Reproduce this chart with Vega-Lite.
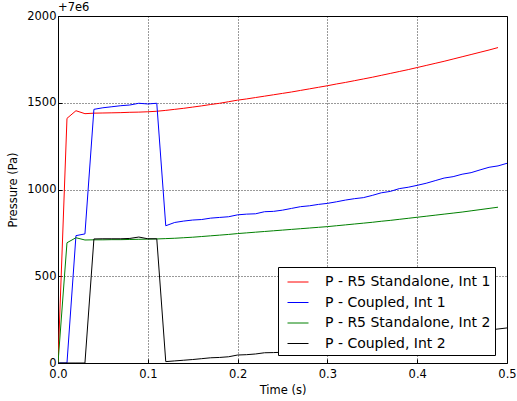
{
  "$schema": "https://vega.github.io/schema/vega-lite/v6.json",
  "width": 449,
  "height": 347,
  "autosize": {"type": "none"},
  "padding": {"left": 58, "top": 16, "right": 10, "bottom": 38},
  "background": "white",
  "title": {"text": "+7e6", "anchor": "start", "frame": "group", "fontSize": 11.5, "fontWeight": "normal", "font": "DejaVu Sans", "offset": -3, "color": "black"},
  "config": {
    "font": "DejaVu Sans",
    "view": {"stroke": "black", "strokeWidth": 1},
    "axis": {
      "domain": false,
      "grid": true,
      "gridColor": "#000000",
      "gridDash": [1, 2],
      "gridWidth": 1,
      "gridOpacity": 0.8,
      "ticks": true,
      "tickColor": "#000000",
      "tickSize": -4,
      "labelFlush": false,
      "labelColor": "#000000",
      "labelFontSize": 11.5,
      "labelFont": "DejaVu Sans",
      "titleColor": "#000000",
      "titleFontSize": 11.5,
      "titleFont": "DejaVu Sans",
      "titleFontWeight": "normal"
    }
  },
  "datasets": {
    "pressure": [
      {"t": 0.00, "p": 0, "s": "P - R5 Standalone, Int 1"},
      {"t": 0.01, "p": 1410, "s": "P - R5 Standalone, Int 1"},
      {"t": 0.02, "p": 1454, "s": "P - R5 Standalone, Int 1"},
      {"t": 0.03, "p": 1437, "s": "P - R5 Standalone, Int 1"},
      {"t": 0.04, "p": 1440, "s": "P - R5 Standalone, Int 1"},
      {"t": 0.05, "p": 1441, "s": "P - R5 Standalone, Int 1"},
      {"t": 0.06, "p": 1442, "s": "P - R5 Standalone, Int 1"},
      {"t": 0.07, "p": 1443, "s": "P - R5 Standalone, Int 1"},
      {"t": 0.08, "p": 1445, "s": "P - R5 Standalone, Int 1"},
      {"t": 0.09, "p": 1446, "s": "P - R5 Standalone, Int 1"},
      {"t": 0.10, "p": 1448, "s": "P - R5 Standalone, Int 1"},
      {"t": 0.11, "p": 1451, "s": "P - R5 Standalone, Int 1"},
      {"t": 0.12, "p": 1456, "s": "P - R5 Standalone, Int 1"},
      {"t": 0.13, "p": 1462, "s": "P - R5 Standalone, Int 1"},
      {"t": 0.14, "p": 1468, "s": "P - R5 Standalone, Int 1"},
      {"t": 0.15, "p": 1475, "s": "P - R5 Standalone, Int 1"},
      {"t": 0.16, "p": 1482, "s": "P - R5 Standalone, Int 1"},
      {"t": 0.17, "p": 1490, "s": "P - R5 Standalone, Int 1"},
      {"t": 0.18, "p": 1497, "s": "P - R5 Standalone, Int 1"},
      {"t": 0.19, "p": 1506, "s": "P - R5 Standalone, Int 1"},
      {"t": 0.20, "p": 1515, "s": "P - R5 Standalone, Int 1"},
      {"t": 0.21, "p": 1522, "s": "P - R5 Standalone, Int 1"},
      {"t": 0.22, "p": 1530, "s": "P - R5 Standalone, Int 1"},
      {"t": 0.23, "p": 1538, "s": "P - R5 Standalone, Int 1"},
      {"t": 0.24, "p": 1546, "s": "P - R5 Standalone, Int 1"},
      {"t": 0.25, "p": 1554, "s": "P - R5 Standalone, Int 1"},
      {"t": 0.26, "p": 1562, "s": "P - R5 Standalone, Int 1"},
      {"t": 0.27, "p": 1571, "s": "P - R5 Standalone, Int 1"},
      {"t": 0.28, "p": 1580, "s": "P - R5 Standalone, Int 1"},
      {"t": 0.29, "p": 1589, "s": "P - R5 Standalone, Int 1"},
      {"t": 0.30, "p": 1598, "s": "P - R5 Standalone, Int 1"},
      {"t": 0.31, "p": 1608, "s": "P - R5 Standalone, Int 1"},
      {"t": 0.32, "p": 1617, "s": "P - R5 Standalone, Int 1"},
      {"t": 0.33, "p": 1627, "s": "P - R5 Standalone, Int 1"},
      {"t": 0.34, "p": 1637, "s": "P - R5 Standalone, Int 1"},
      {"t": 0.35, "p": 1647, "s": "P - R5 Standalone, Int 1"},
      {"t": 0.36, "p": 1658, "s": "P - R5 Standalone, Int 1"},
      {"t": 0.37, "p": 1669, "s": "P - R5 Standalone, Int 1"},
      {"t": 0.38, "p": 1680, "s": "P - R5 Standalone, Int 1"},
      {"t": 0.39, "p": 1691, "s": "P - R5 Standalone, Int 1"},
      {"t": 0.40, "p": 1703, "s": "P - R5 Standalone, Int 1"},
      {"t": 0.41, "p": 1715, "s": "P - R5 Standalone, Int 1"},
      {"t": 0.42, "p": 1727, "s": "P - R5 Standalone, Int 1"},
      {"t": 0.43, "p": 1739, "s": "P - R5 Standalone, Int 1"},
      {"t": 0.44, "p": 1752, "s": "P - R5 Standalone, Int 1"},
      {"t": 0.45, "p": 1765, "s": "P - R5 Standalone, Int 1"},
      {"t": 0.46, "p": 1778, "s": "P - R5 Standalone, Int 1"},
      {"t": 0.47, "p": 1791, "s": "P - R5 Standalone, Int 1"},
      {"t": 0.48, "p": 1804, "s": "P - R5 Standalone, Int 1"},
      {"t": 0.49, "p": 1818, "s": "P - R5 Standalone, Int 1"},

      {"t": 0.00, "p": 0, "s": "P - Coupled, Int 1"},
      {"t": 0.01, "p": 0, "s": "P - Coupled, Int 1"},
      {"t": 0.02, "p": 734, "s": "P - Coupled, Int 1"},
      {"t": 0.03, "p": 744, "s": "P - Coupled, Int 1"},
      {"t": 0.04, "p": 1462, "s": "P - Coupled, Int 1"},
      {"t": 0.05, "p": 1471, "s": "P - Coupled, Int 1"},
      {"t": 0.06, "p": 1477, "s": "P - Coupled, Int 1"},
      {"t": 0.07, "p": 1483, "s": "P - Coupled, Int 1"},
      {"t": 0.08, "p": 1487, "s": "P - Coupled, Int 1"},
      {"t": 0.09, "p": 1497, "s": "P - Coupled, Int 1"},
      {"t": 0.10, "p": 1493, "s": "P - Coupled, Int 1"},
      {"t": 0.11, "p": 1497, "s": "P - Coupled, Int 1"},
      {"t": 0.12, "p": 791, "s": "P - Coupled, Int 1"},
      {"t": 0.13, "p": 810, "s": "P - Coupled, Int 1"},
      {"t": 0.14, "p": 818, "s": "P - Coupled, Int 1"},
      {"t": 0.15, "p": 824, "s": "P - Coupled, Int 1"},
      {"t": 0.16, "p": 827, "s": "P - Coupled, Int 1"},
      {"t": 0.17, "p": 835, "s": "P - Coupled, Int 1"},
      {"t": 0.18, "p": 839, "s": "P - Coupled, Int 1"},
      {"t": 0.19, "p": 843, "s": "P - Coupled, Int 1"},
      {"t": 0.20, "p": 854, "s": "P - Coupled, Int 1"},
      {"t": 0.21, "p": 858, "s": "P - Coupled, Int 1"},
      {"t": 0.22, "p": 860, "s": "P - Coupled, Int 1"},
      {"t": 0.23, "p": 872, "s": "P - Coupled, Int 1"},
      {"t": 0.24, "p": 874, "s": "P - Coupled, Int 1"},
      {"t": 0.25, "p": 881, "s": "P - Coupled, Int 1"},
      {"t": 0.26, "p": 891, "s": "P - Coupled, Int 1"},
      {"t": 0.27, "p": 901, "s": "P - Coupled, Int 1"},
      {"t": 0.28, "p": 906, "s": "P - Coupled, Int 1"},
      {"t": 0.29, "p": 914, "s": "P - Coupled, Int 1"},
      {"t": 0.30, "p": 920, "s": "P - Coupled, Int 1"},
      {"t": 0.31, "p": 929, "s": "P - Coupled, Int 1"},
      {"t": 0.32, "p": 939, "s": "P - Coupled, Int 1"},
      {"t": 0.33, "p": 947, "s": "P - Coupled, Int 1"},
      {"t": 0.34, "p": 953, "s": "P - Coupled, Int 1"},
      {"t": 0.35, "p": 966, "s": "P - Coupled, Int 1"},
      {"t": 0.36, "p": 981, "s": "P - Coupled, Int 1"},
      {"t": 0.37, "p": 989, "s": "P - Coupled, Int 1"},
      {"t": 0.38, "p": 1005, "s": "P - Coupled, Int 1"},
      {"t": 0.39, "p": 1013, "s": "P - Coupled, Int 1"},
      {"t": 0.40, "p": 1024, "s": "P - Coupled, Int 1"},
      {"t": 0.41, "p": 1036, "s": "P - Coupled, Int 1"},
      {"t": 0.42, "p": 1051, "s": "P - Coupled, Int 1"},
      {"t": 0.43, "p": 1066, "s": "P - Coupled, Int 1"},
      {"t": 0.44, "p": 1074, "s": "P - Coupled, Int 1"},
      {"t": 0.45, "p": 1088, "s": "P - Coupled, Int 1"},
      {"t": 0.46, "p": 1097, "s": "P - Coupled, Int 1"},
      {"t": 0.47, "p": 1113, "s": "P - Coupled, Int 1"},
      {"t": 0.48, "p": 1128, "s": "P - Coupled, Int 1"},
      {"t": 0.49, "p": 1136, "s": "P - Coupled, Int 1"},
      {"t": 0.50, "p": 1151, "s": "P - Coupled, Int 1"},

      {"t": 0.00, "p": 0, "s": "P - R5 Standalone, Int 2"},
      {"t": 0.01, "p": 693, "s": "P - R5 Standalone, Int 2"},
      {"t": 0.02, "p": 722, "s": "P - R5 Standalone, Int 2"},
      {"t": 0.03, "p": 709, "s": "P - R5 Standalone, Int 2"},
      {"t": 0.04, "p": 710, "s": "P - R5 Standalone, Int 2"},
      {"t": 0.05, "p": 710, "s": "P - R5 Standalone, Int 2"},
      {"t": 0.06, "p": 711, "s": "P - R5 Standalone, Int 2"},
      {"t": 0.07, "p": 711, "s": "P - R5 Standalone, Int 2"},
      {"t": 0.08, "p": 712, "s": "P - R5 Standalone, Int 2"},
      {"t": 0.09, "p": 713, "s": "P - R5 Standalone, Int 2"},
      {"t": 0.10, "p": 714, "s": "P - R5 Standalone, Int 2"},
      {"t": 0.11, "p": 715, "s": "P - R5 Standalone, Int 2"},
      {"t": 0.12, "p": 717, "s": "P - R5 Standalone, Int 2"},
      {"t": 0.13, "p": 719, "s": "P - R5 Standalone, Int 2"},
      {"t": 0.14, "p": 722, "s": "P - R5 Standalone, Int 2"},
      {"t": 0.15, "p": 725, "s": "P - R5 Standalone, Int 2"},
      {"t": 0.16, "p": 729, "s": "P - R5 Standalone, Int 2"},
      {"t": 0.17, "p": 733, "s": "P - R5 Standalone, Int 2"},
      {"t": 0.18, "p": 737, "s": "P - R5 Standalone, Int 2"},
      {"t": 0.19, "p": 741, "s": "P - R5 Standalone, Int 2"},
      {"t": 0.20, "p": 746, "s": "P - R5 Standalone, Int 2"},
      {"t": 0.21, "p": 750, "s": "P - R5 Standalone, Int 2"},
      {"t": 0.22, "p": 754, "s": "P - R5 Standalone, Int 2"},
      {"t": 0.23, "p": 758, "s": "P - R5 Standalone, Int 2"},
      {"t": 0.24, "p": 762, "s": "P - R5 Standalone, Int 2"},
      {"t": 0.25, "p": 766, "s": "P - R5 Standalone, Int 2"},
      {"t": 0.26, "p": 770, "s": "P - R5 Standalone, Int 2"},
      {"t": 0.27, "p": 774, "s": "P - R5 Standalone, Int 2"},
      {"t": 0.28, "p": 778, "s": "P - R5 Standalone, Int 2"},
      {"t": 0.29, "p": 782, "s": "P - R5 Standalone, Int 2"},
      {"t": 0.30, "p": 786, "s": "P - R5 Standalone, Int 2"},
      {"t": 0.31, "p": 791, "s": "P - R5 Standalone, Int 2"},
      {"t": 0.32, "p": 796, "s": "P - R5 Standalone, Int 2"},
      {"t": 0.33, "p": 801, "s": "P - R5 Standalone, Int 2"},
      {"t": 0.34, "p": 806, "s": "P - R5 Standalone, Int 2"},
      {"t": 0.35, "p": 811, "s": "P - R5 Standalone, Int 2"},
      {"t": 0.36, "p": 817, "s": "P - R5 Standalone, Int 2"},
      {"t": 0.37, "p": 822, "s": "P - R5 Standalone, Int 2"},
      {"t": 0.38, "p": 828, "s": "P - R5 Standalone, Int 2"},
      {"t": 0.39, "p": 834, "s": "P - R5 Standalone, Int 2"},
      {"t": 0.40, "p": 840, "s": "P - R5 Standalone, Int 2"},
      {"t": 0.41, "p": 846, "s": "P - R5 Standalone, Int 2"},
      {"t": 0.42, "p": 852, "s": "P - R5 Standalone, Int 2"},
      {"t": 0.43, "p": 858, "s": "P - R5 Standalone, Int 2"},
      {"t": 0.44, "p": 864, "s": "P - R5 Standalone, Int 2"},
      {"t": 0.45, "p": 870, "s": "P - R5 Standalone, Int 2"},
      {"t": 0.46, "p": 877, "s": "P - R5 Standalone, Int 2"},
      {"t": 0.47, "p": 884, "s": "P - R5 Standalone, Int 2"},
      {"t": 0.48, "p": 891, "s": "P - R5 Standalone, Int 2"},
      {"t": 0.49, "p": 898, "s": "P - R5 Standalone, Int 2"},

      {"t": 0.00, "p": 0, "s": "P - Coupled, Int 2"},
      {"t": 0.01, "p": 0, "s": "P - Coupled, Int 2"},
      {"t": 0.02, "p": 0, "s": "P - Coupled, Int 2"},
      {"t": 0.03, "p": 0, "s": "P - Coupled, Int 2"},
      {"t": 0.04, "p": 715, "s": "P - Coupled, Int 2"},
      {"t": 0.05, "p": 716, "s": "P - Coupled, Int 2"},
      {"t": 0.06, "p": 716, "s": "P - Coupled, Int 2"},
      {"t": 0.07, "p": 716, "s": "P - Coupled, Int 2"},
      {"t": 0.08, "p": 718, "s": "P - Coupled, Int 2"},
      {"t": 0.09, "p": 726, "s": "P - Coupled, Int 2"},
      {"t": 0.10, "p": 716, "s": "P - Coupled, Int 2"},
      {"t": 0.11, "p": 716, "s": "P - Coupled, Int 2"},
      {"t": 0.12, "p": 8, "s": "P - Coupled, Int 2"},
      {"t": 0.13, "p": 12, "s": "P - Coupled, Int 2"},
      {"t": 0.14, "p": 16, "s": "P - Coupled, Int 2"},
      {"t": 0.15, "p": 20, "s": "P - Coupled, Int 2"},
      {"t": 0.16, "p": 25, "s": "P - Coupled, Int 2"},
      {"t": 0.17, "p": 30, "s": "P - Coupled, Int 2"},
      {"t": 0.18, "p": 32, "s": "P - Coupled, Int 2"},
      {"t": 0.19, "p": 36, "s": "P - Coupled, Int 2"},
      {"t": 0.20, "p": 46, "s": "P - Coupled, Int 2"},
      {"t": 0.21, "p": 48, "s": "P - Coupled, Int 2"},
      {"t": 0.22, "p": 52, "s": "P - Coupled, Int 2"},
      {"t": 0.23, "p": 59, "s": "P - Coupled, Int 2"},
      {"t": 0.24, "p": 60, "s": "P - Coupled, Int 2"},
      {"t": 0.25, "p": 62, "s": "P - Coupled, Int 2"},
      {"t": 0.26, "p": 68, "s": "P - Coupled, Int 2"},
      {"t": 0.27, "p": 72, "s": "P - Coupled, Int 2"},
      {"t": 0.28, "p": 76, "s": "P - Coupled, Int 2"},
      {"t": 0.29, "p": 80, "s": "P - Coupled, Int 2"},
      {"t": 0.30, "p": 84, "s": "P - Coupled, Int 2"},
      {"t": 0.31, "p": 89, "s": "P - Coupled, Int 2"},
      {"t": 0.32, "p": 94, "s": "P - Coupled, Int 2"},
      {"t": 0.33, "p": 99, "s": "P - Coupled, Int 2"},
      {"t": 0.34, "p": 104, "s": "P - Coupled, Int 2"},
      {"t": 0.35, "p": 110, "s": "P - Coupled, Int 2"},
      {"t": 0.36, "p": 115, "s": "P - Coupled, Int 2"},
      {"t": 0.37, "p": 121, "s": "P - Coupled, Int 2"},
      {"t": 0.38, "p": 127, "s": "P - Coupled, Int 2"},
      {"t": 0.39, "p": 133, "s": "P - Coupled, Int 2"},
      {"t": 0.40, "p": 139, "s": "P - Coupled, Int 2"},
      {"t": 0.41, "p": 145, "s": "P - Coupled, Int 2"},
      {"t": 0.42, "p": 152, "s": "P - Coupled, Int 2"},
      {"t": 0.43, "p": 158, "s": "P - Coupled, Int 2"},
      {"t": 0.44, "p": 164, "s": "P - Coupled, Int 2"},
      {"t": 0.45, "p": 171, "s": "P - Coupled, Int 2"},
      {"t": 0.46, "p": 178, "s": "P - Coupled, Int 2"},
      {"t": 0.47, "p": 184, "s": "P - Coupled, Int 2"},
      {"t": 0.48, "p": 190, "s": "P - Coupled, Int 2"},
      {"t": 0.49, "p": 196, "s": "P - Coupled, Int 2"},
      {"t": 0.50, "p": 202, "s": "P - Coupled, Int 2"}
    ]
  },
  "data": {"name": "pressure"},
  "mark": {"type": "line", "strokeWidth": 1, "clip": true},
  "encoding": {
    "x": {
      "field": "t",
      "type": "quantitative",
      "scale": {"domain": [0, 0.5], "nice": false, "zero": false},
      "axis": {"title": "Time (s)", "values": [0, 0.1, 0.2, 0.3, 0.4, 0.5], "format": ".1f", "labelPadding": 9, "titlePadding": 5}
    },
    "y": {
      "field": "p",
      "type": "quantitative",
      "scale": {"domain": [0, 2000], "nice": false},
      "axis": {"title": "Pressure (Pa)", "values": [0, 500, 1000, 1500, 2000], "format": "d", "labelPadding": 6, "titlePadding": 8}
    },
    "color": {
      "field": "s",
      "type": "nominal",
      "scale": {
        "domain": ["P - R5 Standalone, Int 1", "P - Coupled, Int 1", "P - R5 Standalone, Int 2", "P - Coupled, Int 2"],
        "range": ["#ff0000", "#0000ff", "#008000", "#000000"]
      },
      "legend": {
        "title": null,
        "orient": "none",
        "legendX": 220,
        "legendY": 251,
        "strokeColor": "#000000",
        "fillColor": "#ffffff",
        "padding": 4,
        "symbolType": "stroke",
        "symbolSize": 441,
        "symbolStrokeWidth": 1,
        "symbolOffset": 5,
        "labelOffset": 16,
        "labelFontSize": 14,
        "labelFont": "DejaVu Sans",
        "labelColor": "#000000",
        "rowPadding": 2.5,
        "labelLimit": 400,
        "cornerRadius": 0
      }
    }
  }
}
